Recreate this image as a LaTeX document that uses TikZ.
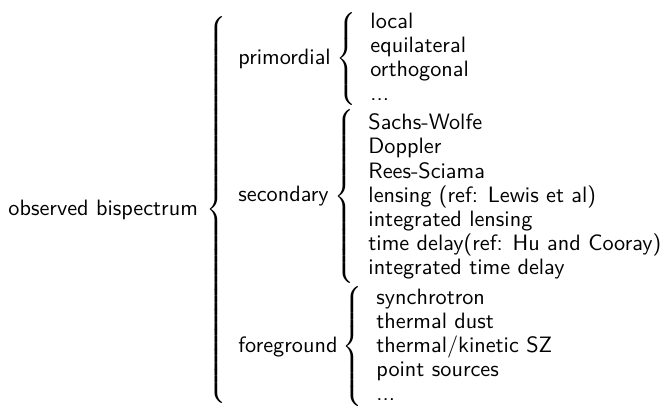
\documentclass[tikz,border=0pt]{standalone}
\usepackage{tikz}
\usetikzlibrary{positioning}

% stretchy brace of given half height
\newcommand{\curlybrace}[1]{$\delimitershortfall=0pt\delimiterfactor=1000\left\{\vcenter{\hbox{\vrule height #1 depth #1 width 0pt}}\right.$}

\begin{document}
\begin{tikzpicture}[x=0.45pt, y=-0.45pt,
	term/.style={anchor=base west, inner sep=0pt, font=\sffamily},
	leaves/.style={anchor=base west, inner sep=0pt, align=left, font=\sffamily\fontsize{10}{10.9}\selectfont},
	curly/.style={inner sep=0pt}]
	\useasboundingbox (0,0) rectangle (666,407);
	\node[term] (obs) at (8,215.5) {observed bispectrum};
	\node[curly] (bobs) [base right=3.5pt of obs] {\curlybrace{86pt}};
	
	\node[term] (prim) at (238,64.5) {primordial};
	\node[curly] (bprim) [base right=2pt of prim] {\curlybrace{20.5pt}};
	\node[leaves] (lprim) at (370,101) {local\\equilateral\\orthogonal\\...};
	
	\node[term] (sec) at (238,202) {secondary};
	\node[curly] (bsec) [base right=2pt of sec] {\curlybrace{38pt}};
	\node[leaves] (lsec) at (368,275) {Sachs-Wolfe\\Doppler\\Rees-Sciama\\lensing (ref: Lewis et al)\\integrated lensing\\time delay(ref: Hu and Cooray)\\integrated time delay};
	
	\node[term] (fore) at (238,352.5) {foreground};
	\node[curly] (bfore) [base right=2pt of fore] {\curlybrace{24.5pt}};
	\node[leaves] (lfore) at (376,401) {synchrotron\\thermal dust\\thermal/kinetic SZ\\point sources\\...};
\end{tikzpicture}
\end{document}
